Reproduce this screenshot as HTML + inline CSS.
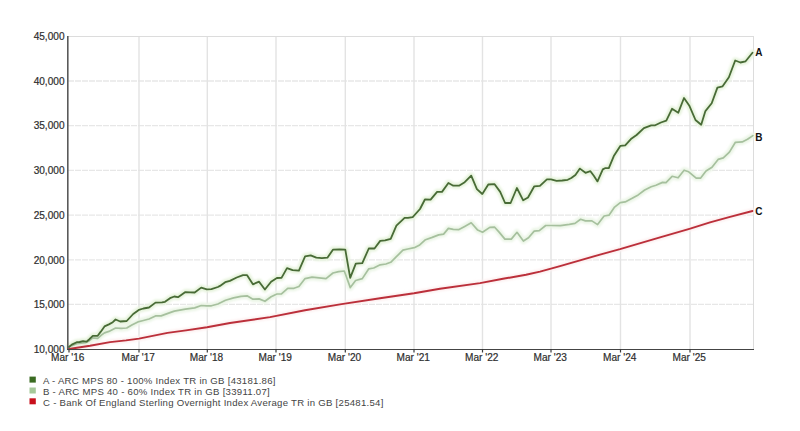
<!DOCTYPE html>
<html><head><meta charset="utf-8"><style>
html,body{margin:0;padding:0;background:#fff;}
body{width:800px;height:431px;overflow:hidden;}
svg{display:block;}
text{font-family:"Liberation Sans",sans-serif;}
.ax{font-size:10.1px;fill:#2e2e2e;stroke:#2e2e2e;stroke-width:0.2px;}
.el{font-size:10px;font-weight:bold;fill:#111;}
.lg{font-size:9.6px;letter-spacing:0.27px;fill:#444;}
</style></head><body>
<svg width="800" height="431" viewBox="0 0 800 431">
<rect width="800" height="431" fill="#fff"/>
<line x1="68" y1="81.0" x2="753" y2="81.0" stroke="#e7e7e7" stroke-width="1.3" stroke-dasharray="6,1"/>
<line x1="68" y1="125.6" x2="753" y2="125.6" stroke="#e7e7e7" stroke-width="1.3" stroke-dasharray="6,1"/>
<line x1="68" y1="170.3" x2="753" y2="170.3" stroke="#e7e7e7" stroke-width="1.3" stroke-dasharray="6,1"/>
<line x1="68" y1="215.2" x2="753" y2="215.2" stroke="#e7e7e7" stroke-width="1.3" stroke-dasharray="6,1"/>
<line x1="68" y1="259.8" x2="753" y2="259.8" stroke="#e7e7e7" stroke-width="1.3" stroke-dasharray="6,1"/>
<line x1="68" y1="304.3" x2="753" y2="304.3" stroke="#e7e7e7" stroke-width="1.3" stroke-dasharray="6,1"/>
<line x1="68" y1="36.5" x2="754" y2="36.5" stroke="#dcdcdc" stroke-width="1"/>
<line x1="753.5" y1="36" x2="753.5" y2="350" stroke="#dcdcdc" stroke-width="1"/>
<line x1="139" y1="37" x2="139" y2="349" stroke="#e3e3e3" stroke-width="1.4"/>
<line x1="207.3" y1="37" x2="207.3" y2="349" stroke="#e3e3e3" stroke-width="1.4"/>
<line x1="276" y1="37" x2="276" y2="349" stroke="#e3e3e3" stroke-width="1.4"/>
<line x1="345.3" y1="37" x2="345.3" y2="349" stroke="#e3e3e3" stroke-width="1.4"/>
<line x1="414" y1="37" x2="414" y2="349" stroke="#e3e3e3" stroke-width="1.4"/>
<line x1="482.5" y1="37" x2="482.5" y2="349" stroke="#e3e3e3" stroke-width="1.4"/>
<line x1="551" y1="37" x2="551" y2="349" stroke="#e3e3e3" stroke-width="1.4"/>
<line x1="620.5" y1="37" x2="620.5" y2="349" stroke="#e3e3e3" stroke-width="1.4"/>
<line x1="690" y1="37" x2="690" y2="349" stroke="#e3e3e3" stroke-width="1.4"/>
<defs><filter id="bl" x="-5%" y="-5%" width="110%" height="110%"><feGaussianBlur stdDeviation="1.2"/></filter></defs><g filter="url(#bl)">
<polyline points="68.9,349.0 90.0,345.8 110.0,342.1 126.0,340.4 139.0,338.6 167.5,332.9 186.0,330.4 207.0,327.2 230.0,323.0 270.0,317.1 305.0,310.2 340.0,304.4 380.0,298.3 414.0,293.3 440.0,288.7 480.0,283.1 503.0,278.8 526.0,274.8 540.0,271.6 560.0,266.2 600.0,254.6 620.0,249.2 660.0,237.4 689.4,228.8 710.0,222.4 730.0,216.8 752.5,211.0" fill="none" stroke="#fcefef" stroke-width="5" stroke-linejoin="round" stroke-linecap="round"/>
<polyline points="68.9,347.0 71.8,345.6 76.7,343.6 85.5,342.7 89.4,340.7 92.8,337.8 97.7,338.3 101.1,335.3 104.5,332.9 108.9,331.4 115.6,328.0 121.1,328.4 126.7,328.0 132.3,324.7 137.9,321.9 143.4,320.5 149.0,319.0 155.5,315.9 161.1,315.9 170.0,312.6 174.3,311.1 185.4,309.2 194.7,307.9 201.2,305.5 206.8,305.8 211.4,305.8 217.9,304.0 225.5,300.2 233.6,297.9 240.9,296.3 247.1,295.8 252.9,299.2 259.1,298.9 264.9,301.3 271.1,296.8 276.9,294.0 281.5,293.8 287.7,288.3 294.0,288.3 298.9,286.5 305.1,278.6 312.1,277.2 319.1,277.9 326.0,278.6 333.0,273.0 338.6,271.6 344.3,271.0 350.3,287.6 355.6,280.5 362.3,278.6 368.8,268.8 373.7,268.0 380.2,264.8 385.9,264.0 390.7,262.3 396.4,256.7 402.9,250.2 407.8,249.0 414.3,247.7 419.2,245.3 425.5,239.7 432.2,237.4 438.7,234.9 443.6,234.1 448.4,228.4 453.3,229.3 459.0,229.6 464.7,226.5 471.2,222.8 477.7,230.1 482.5,232.3 489.8,227.4 494.7,227.2 499.1,232.1 504.9,239.1 511.3,239.1 517.0,232.3 523.4,241.0 528.5,237.8 534.2,231.1 539.3,230.6 545.7,225.5 551.4,225.5 560.4,225.7 569.3,224.4 575.0,223.4 580.6,219.3 585.4,220.9 591.9,220.9 597.6,224.6 604.1,216.0 609.0,215.2 614.6,207.1 620.3,202.7 625.2,201.9 631.7,198.6 638.2,194.9 644.7,190.0 651.2,186.8 656.0,185.2 662.5,182.4 666.0,182.6 672.1,176.3 678.1,177.8 684.1,170.2 688.7,171.8 696.2,178.1 700.7,178.1 706.0,171.0 712.0,167.2 718.1,159.4 723.3,157.9 729.4,152.1 735.4,142.3 742.2,141.9 747.5,139.3 752.9,135.6" fill="none" stroke="#ebf5e6" stroke-width="6" stroke-linejoin="round" stroke-linecap="round"/>
<polyline points="68.9,347.0 71.8,344.6 76.7,342.2 79.6,342.0 83.1,341.2 86.5,341.7 89.4,339.2 92.8,335.8 97.7,335.8 100.6,331.9 104.5,326.4 108.9,324.4 112.8,322.2 115.6,319.5 120.2,321.5 126.7,321.0 133.2,314.0 138.8,309.9 143.4,308.5 149.0,307.5 155.5,302.6 162.0,302.4 165.0,301.8 170.0,298.2 174.3,296.5 178.0,297.2 185.4,292.1 190.1,292.3 194.7,292.5 201.2,287.6 206.8,289.3 211.4,289.1 217.9,287.0 220.0,285.9 225.2,282.2 229.9,280.9 236.7,277.5 243.0,275.2 247.1,275.2 252.9,284.3 259.1,281.7 264.9,289.5 271.1,281.7 276.9,278.0 281.5,277.9 287.0,268.1 292.6,270.2 298.9,270.6 305.1,256.3 310.7,255.3 316.3,257.7 321.9,258.1 327.4,257.7 333.1,249.6 339.6,249.4 345.3,249.7 350.2,277.8 355.8,263.6 362.3,263.1 368.8,248.5 374.5,248.5 380.2,240.9 385.1,240.4 390.7,238.8 396.4,225.6 404.6,217.9 407.9,217.9 412.7,217.1 420.0,209.0 424.9,199.5 430.6,199.7 437.1,191.9 442.0,191.9 448.4,183.0 453.3,185.7 459.0,185.7 464.7,182.2 471.2,175.7 476.9,189.2 482.3,194.0 488.3,184.5 494.6,184.2 500.2,191.9 505.1,203.0 510.6,203.0 516.9,188.0 523.2,200.3 528.0,197.5 534.3,186.3 539.9,185.9 546.9,179.4 551.0,179.4 556.6,180.8 562.2,180.5 567.7,179.8 571.3,178.0 575.4,175.0 579.9,168.6 585.5,172.8 590.4,171.2 593.8,175.8 597.5,181.4 602.8,169.4 605.0,168.2 608.8,168.2 613.8,156.1 620.3,145.9 625.2,145.3 630.9,139.1 636.6,135.0 643.9,128.1 651.2,125.3 655.2,125.3 660.9,122.5 666.3,120.7 672.0,108.8 678.3,112.7 684.0,98.0 689.2,105.4 695.5,120.0 701.2,124.7 705.4,111.1 711.7,103.3 717.4,87.6 722.6,86.3 728.9,77.2 735.2,60.5 740.4,62.5 745.6,61.3 752.5,52.8" fill="none" stroke="#e6f3dc" stroke-width="6" stroke-linejoin="round" stroke-linecap="round"/>
</g>
<polyline points="68.9,349.0 90.0,345.8 110.0,342.1 126.0,340.4 139.0,338.6 167.5,332.9 186.0,330.4 207.0,327.2 230.0,323.0 270.0,317.1 305.0,310.2 340.0,304.4 380.0,298.3 414.0,293.3 440.0,288.7 480.0,283.1 503.0,278.8 526.0,274.8 540.0,271.6 560.0,266.2 600.0,254.6 620.0,249.2 660.0,237.4 689.4,228.8 710.0,222.4 730.0,216.8 752.5,211.0" fill="none" stroke="#bb2f3a" stroke-width="1.9" stroke-linejoin="round" stroke-linecap="round"/>
<polyline points="68.9,347.0 71.8,345.6 76.7,343.6 85.5,342.7 89.4,340.7 92.8,337.8 97.7,338.3 101.1,335.3 104.5,332.9 108.9,331.4 115.6,328.0 121.1,328.4 126.7,328.0 132.3,324.7 137.9,321.9 143.4,320.5 149.0,319.0 155.5,315.9 161.1,315.9 170.0,312.6 174.3,311.1 185.4,309.2 194.7,307.9 201.2,305.5 206.8,305.8 211.4,305.8 217.9,304.0 225.5,300.2 233.6,297.9 240.9,296.3 247.1,295.8 252.9,299.2 259.1,298.9 264.9,301.3 271.1,296.8 276.9,294.0 281.5,293.8 287.7,288.3 294.0,288.3 298.9,286.5 305.1,278.6 312.1,277.2 319.1,277.9 326.0,278.6 333.0,273.0 338.6,271.6 344.3,271.0 350.3,287.6 355.6,280.5 362.3,278.6 368.8,268.8 373.7,268.0 380.2,264.8 385.9,264.0 390.7,262.3 396.4,256.7 402.9,250.2 407.8,249.0 414.3,247.7 419.2,245.3 425.5,239.7 432.2,237.4 438.7,234.9 443.6,234.1 448.4,228.4 453.3,229.3 459.0,229.6 464.7,226.5 471.2,222.8 477.7,230.1 482.5,232.3 489.8,227.4 494.7,227.2 499.1,232.1 504.9,239.1 511.3,239.1 517.0,232.3 523.4,241.0 528.5,237.8 534.2,231.1 539.3,230.6 545.7,225.5 551.4,225.5 560.4,225.7 569.3,224.4 575.0,223.4 580.6,219.3 585.4,220.9 591.9,220.9 597.6,224.6 604.1,216.0 609.0,215.2 614.6,207.1 620.3,202.7 625.2,201.9 631.7,198.6 638.2,194.9 644.7,190.0 651.2,186.8 656.0,185.2 662.5,182.4 666.0,182.6 672.1,176.3 678.1,177.8 684.1,170.2 688.7,171.8 696.2,178.1 700.7,178.1 706.0,171.0 712.0,167.2 718.1,159.4 723.3,157.9 729.4,152.1 735.4,142.3 742.2,141.9 747.5,139.3 752.9,135.6" fill="none" stroke="#a6c09e" stroke-width="1.7" stroke-linejoin="round" stroke-linecap="round"/>
<polyline points="68.9,347.0 71.8,344.6 76.7,342.2 79.6,342.0 83.1,341.2 86.5,341.7 89.4,339.2 92.8,335.8 97.7,335.8 100.6,331.9 104.5,326.4 108.9,324.4 112.8,322.2 115.6,319.5 120.2,321.5 126.7,321.0 133.2,314.0 138.8,309.9 143.4,308.5 149.0,307.5 155.5,302.6 162.0,302.4 165.0,301.8 170.0,298.2 174.3,296.5 178.0,297.2 185.4,292.1 190.1,292.3 194.7,292.5 201.2,287.6 206.8,289.3 211.4,289.1 217.9,287.0 220.0,285.9 225.2,282.2 229.9,280.9 236.7,277.5 243.0,275.2 247.1,275.2 252.9,284.3 259.1,281.7 264.9,289.5 271.1,281.7 276.9,278.0 281.5,277.9 287.0,268.1 292.6,270.2 298.9,270.6 305.1,256.3 310.7,255.3 316.3,257.7 321.9,258.1 327.4,257.7 333.1,249.6 339.6,249.4 345.3,249.7 350.2,277.8 355.8,263.6 362.3,263.1 368.8,248.5 374.5,248.5 380.2,240.9 385.1,240.4 390.7,238.8 396.4,225.6 404.6,217.9 407.9,217.9 412.7,217.1 420.0,209.0 424.9,199.5 430.6,199.7 437.1,191.9 442.0,191.9 448.4,183.0 453.3,185.7 459.0,185.7 464.7,182.2 471.2,175.7 476.9,189.2 482.3,194.0 488.3,184.5 494.6,184.2 500.2,191.9 505.1,203.0 510.6,203.0 516.9,188.0 523.2,200.3 528.0,197.5 534.3,186.3 539.9,185.9 546.9,179.4 551.0,179.4 556.6,180.8 562.2,180.5 567.7,179.8 571.3,178.0 575.4,175.0 579.9,168.6 585.5,172.8 590.4,171.2 593.8,175.8 597.5,181.4 602.8,169.4 605.0,168.2 608.8,168.2 613.8,156.1 620.3,145.9 625.2,145.3 630.9,139.1 636.6,135.0 643.9,128.1 651.2,125.3 655.2,125.3 660.9,122.5 666.3,120.7 672.0,108.8 678.3,112.7 684.0,98.0 689.2,105.4 695.5,120.0 701.2,124.7 705.4,111.1 711.7,103.3 717.4,87.6 722.6,86.3 728.9,77.2 735.2,60.5 740.4,62.5 745.6,61.3 752.5,52.8" fill="none" stroke="#486b36" stroke-width="1.8" stroke-linejoin="round" stroke-linecap="round"/>
<line x1="67.8" y1="36" x2="67.8" y2="350" stroke="#5a5a5a" stroke-width="1.6"/>
<line x1="67" y1="349.5" x2="754" y2="349.5" stroke="#444" stroke-width="1"/>
<line x1="69" y1="349" x2="69" y2="352.5" stroke="#3a3a3a" stroke-width="1.2"/>
<line x1="139" y1="349" x2="139" y2="352.5" stroke="#3a3a3a" stroke-width="1.2"/>
<line x1="207.3" y1="349" x2="207.3" y2="352.5" stroke="#3a3a3a" stroke-width="1.2"/>
<line x1="276" y1="349" x2="276" y2="352.5" stroke="#3a3a3a" stroke-width="1.2"/>
<line x1="345.3" y1="349" x2="345.3" y2="352.5" stroke="#3a3a3a" stroke-width="1.2"/>
<line x1="414" y1="349" x2="414" y2="352.5" stroke="#3a3a3a" stroke-width="1.2"/>
<line x1="482.5" y1="349" x2="482.5" y2="352.5" stroke="#3a3a3a" stroke-width="1.2"/>
<line x1="551" y1="349" x2="551" y2="352.5" stroke="#3a3a3a" stroke-width="1.2"/>
<line x1="620.5" y1="349" x2="620.5" y2="352.5" stroke="#3a3a3a" stroke-width="1.2"/>
<line x1="690" y1="349" x2="690" y2="352.5" stroke="#3a3a3a" stroke-width="1.2"/>
<text x="64.5" y="40.0" text-anchor="end" class="ax">45,000</text>
<text x="64.5" y="84.7" text-anchor="end" class="ax">40,000</text>
<text x="64.5" y="129.4" text-anchor="end" class="ax">35,000</text>
<text x="64.5" y="174.1" text-anchor="end" class="ax">30,000</text>
<text x="64.5" y="218.9" text-anchor="end" class="ax">25,000</text>
<text x="64.5" y="263.6" text-anchor="end" class="ax">20,000</text>
<text x="64.5" y="308.3" text-anchor="end" class="ax">15,000</text>
<text x="64.5" y="353.0" text-anchor="end" class="ax">10,000</text>
<text x="67.7" y="360.6" text-anchor="middle" class="ax">Mar '16</text>
<text x="138.2" y="360.6" text-anchor="middle" class="ax">Mar '17</text>
<text x="206.5" y="360.6" text-anchor="middle" class="ax">Mar '18</text>
<text x="275.2" y="360.6" text-anchor="middle" class="ax">Mar '19</text>
<text x="344.5" y="360.6" text-anchor="middle" class="ax">Mar '20</text>
<text x="413.2" y="360.6" text-anchor="middle" class="ax">Mar '21</text>
<text x="481.7" y="360.6" text-anchor="middle" class="ax">Mar '22</text>
<text x="550.2" y="360.6" text-anchor="middle" class="ax">Mar '23</text>
<text x="619.7" y="360.6" text-anchor="middle" class="ax">Mar '24</text>
<text x="689.2" y="360.6" text-anchor="middle" class="ax">Mar '25</text>
<text x="755.3" y="56.0" class="el">A</text>
<text x="755.3" y="140.7" class="el">B</text>
<text x="755.3" y="214.7" class="el">C</text>
<rect x="29.5" y="376.6" width="6.3" height="6" fill="#3b6b22"/>
<text x="43" y="384.4" class="lg">A - ARC MPS 80 - 100% Index TR in GB [43181.86]</text>
<rect x="29.5" y="387.5" width="6.3" height="6" fill="#a6c99a"/>
<text x="43" y="395.4" class="lg">B - ARC MPS 40 - 60% Index TR in GB [33911.07]</text>
<rect x="29.5" y="398.3" width="6.3" height="6" fill="#c8101c"/>
<text x="43" y="406.3" class="lg">C - Bank Of England Sterling Overnight Index Average TR in GB [25481.54]</text>
</svg>
</body></html>
